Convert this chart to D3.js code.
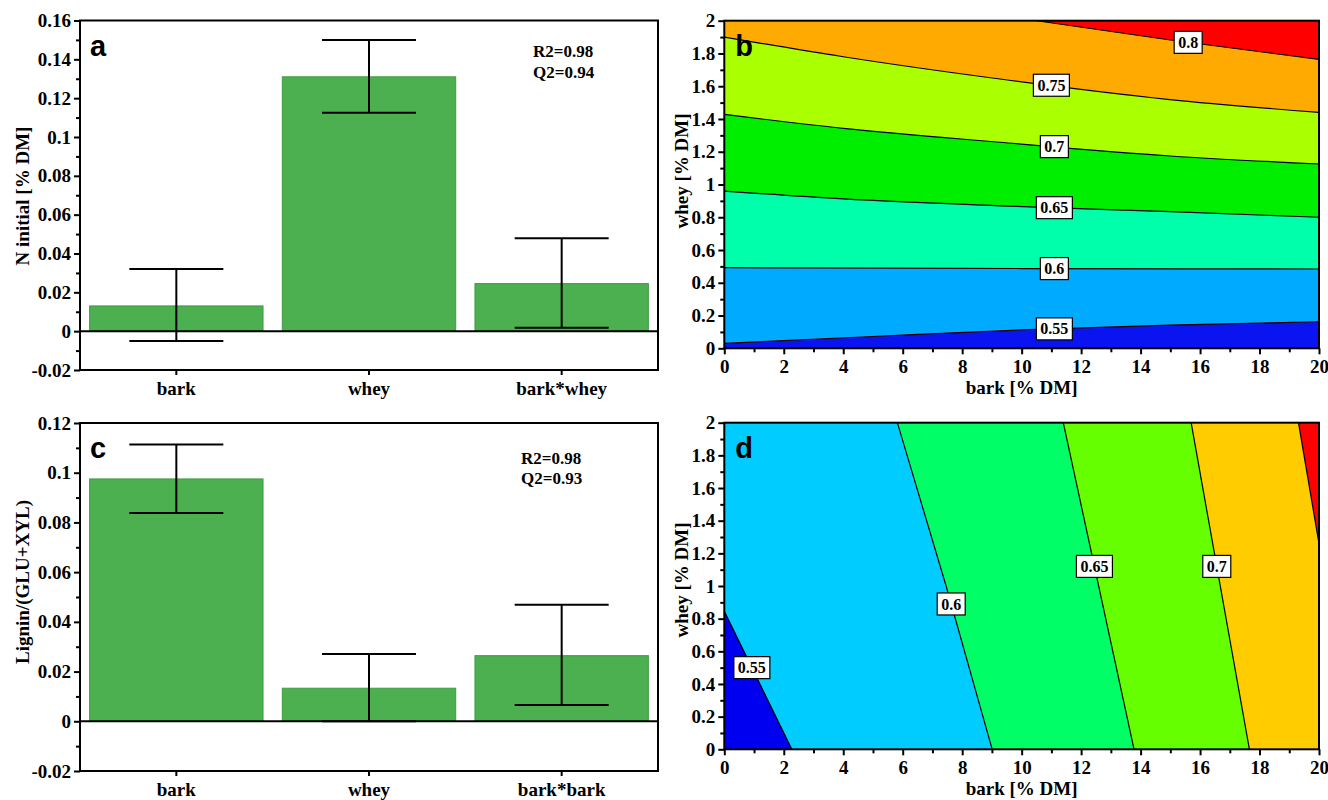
<!DOCTYPE html>
<html>
<head>
<meta charset="utf-8">
<script src="https://cdn.jsdelivr.net/npm/d3@7"></script>
<style>
  body { margin: 0; background: #fff; }
  svg text { font-family: "Liberation Serif", "Times New Roman", serif; font-weight: bold; }
  .axis text { font-size: 19px; fill: #000; }
  .axis line { stroke: #000; stroke-width: 2; }
  .axis path { display: none; }
</style>
</head>
<body>
<script>
// ---- bar panels (regression coefficients) ----
var termsA = ["bark", "whey", "bark*whey"];
var valuesA = [0.013, 0.131, 0.0245];
var errLowA = [-0.005, 0.1125, 0.0017];
var errHighA = [0.032, 0.150, 0.0478];
var yTicksA = [-0.02, 0, 0.02, 0.04, 0.06, 0.08, 0.1, 0.12, 0.14, 0.16];

var termsC = ["bark", "whey", "bark*bark"];
var valuesC = [0.0975, 0.0133, 0.0264];
var errLowC = [0.0838, 0.0, 0.0066];
var errHighC = [0.1114, 0.0271, 0.0469];
var yTicksC = [-0.02, 0, 0.02, 0.04, 0.06, 0.08, 0.1, 0.12];

// ---- contour panels ----
var barkTicks = [0, 2, 4, 6, 8, 10, 12, 14, 16, 18, 20];
var wheyTicks = [0, 0.2, 0.4, 0.6, 0.8, 1, 1.2, 1.4, 1.6, 1.8, 2];

// panel b: iso-lines as [bark, whey]
var levelsB = [0.55, 0.6, 0.65, 0.7, 0.75, 0.8];
var linesB = [
  [[0, 0.03], [5, 0.072], [10, 0.112], [15, 0.142], [20, 0.162]],
  [[0, 0.492], [10, 0.487], [20, 0.484]],
  [[0, 0.96], [4, 0.912], [9.27, 0.87], [15, 0.834], [20, 0.80]],
  [[0, 1.428], [4, 1.343], [9.27, 1.258], [15, 1.174], [20, 1.125]],
  [[0, 1.90], [4, 1.78], [9.27, 1.644], [14.9, 1.52], [20, 1.44]],
  [[10.5, 2], [15, 1.882], [20, 1.764]]
];
var colorsB = ["#0a14f0", "#00aaff", "#00ffaa", "#00ee00", "#aaff00", "#ffaa00", "#ff0000"];
var labelAtB = [11.1, 11.1, 11.1, 11.1, 11.0, 15.6];

// panel d: iso-lines as [bark, whey], ordered by whey
var levelsD = [0.55, 0.6, 0.65, 0.7, 0.75];
var linesD = [
  [[2.27, 0], [0, 0.845]],
  [[9.01, 0], [7.46, 1], [5.82, 2]],
  [[13.78, 0], [11.40, 2]],
  [[17.66, 0], [15.70, 2]],
  [[20, 1.26], [19.31, 2]]
];
var colorsD = ["#0000f0", "#00ccff", "#00ff66", "#66ff00", "#ffcc00", "#ff0000"];
var labelAtD = [0.5, 0.89, 1.12, 1.12, null];

var svg = d3.select("body").append("svg")
  .attr("width", 1328)
  .attr("height", 800);

function midpoints(t) {
  var m = [];
  for (var i = 0; i < t.length - 1; i++) m.push((t[i] + t[i + 1]) / 2);
  return m;
}

function drawBars(o) {
  var g = svg.append("g");
  var x = d3.scaleBand().domain(o.terms).range([o.left, o.right])
    .paddingInner(0.1).paddingOuter(0.05);
  var y = d3.scaleLinear().domain([o.yTicks[0], o.yTicks[o.yTicks.length - 1]])
    .range([o.bottom, o.top]);

  g.selectAll(".bar").data(o.values).enter().append("rect")
    .attr("class", "bar")
    .attr("x", (d, i) => x(o.terms[i]))
    .attr("width", x.bandwidth())
    .attr("y", d => y(Math.max(d, 0)))
    .attr("height", d => Math.abs(y(d) - y(0)))
    .attr("fill", "#4caf50")
    .attr("stroke", "#3f9c43");

  g.append("line")
    .attr("x1", o.left).attr("x2", o.right)
    .attr("y1", y(0)).attr("y2", y(0))
    .attr("stroke", "#000").attr("stroke-width", 2);

  // error bars
  var cx = i => x(o.terms[i]) + x.bandwidth() / 2;
  o.values.forEach(function(v, i) {
    var e = g.append("g").attr("stroke", "#000").attr("stroke-width", 2);
    e.append("line").attr("x1", cx(i)).attr("x2", cx(i))
      .attr("y1", y(o.lo[i])).attr("y2", y(o.hi[i]));
    [o.lo[i], o.hi[i]].forEach(function(w) {
      e.append("line").attr("x1", cx(i) - 47).attr("x2", cx(i) + 47)
        .attr("y1", y(w)).attr("y2", y(w));
    });
  });

  // axes
  g.append("g").attr("class", "axis")
    .attr("transform", `translate(${o.left},0)`)
    .call(d3.axisLeft(y).tickValues(midpoints(o.yTicks)).tickSize(4).tickFormat(""));
  g.append("g").attr("class", "axis")
    .attr("transform", `translate(${o.left},0)`)
    .call(d3.axisLeft(y).tickValues(o.yTicks).tickSize(6).tickPadding(3).tickFormat(d => String(d)));
  g.append("g").attr("class", "axis")
    .attr("transform", `translate(0,${o.bottom})`)
    .call(d3.axisBottom(x).tickSize(5).tickPadding(6.5));

  g.append("rect")
    .attr("x", o.left).attr("y", o.top)
    .attr("width", o.right - o.left).attr("height", o.bottom - o.top)
    .attr("fill", "none").attr("stroke", "#000").attr("stroke-width", 2);

  g.append("text")
    .attr("transform", `translate(29,${o.titleY}) rotate(-90)`)
    .attr("text-anchor", "middle")
    .style("font-size", "19px")
    .text(o.yTitle);

  o.stats.forEach(function(s, i) {
    g.append("text").attr("x", o.statX).attr("y", o.statY + i * 20.5)
      .style("font-size", "17px").text(s);
  });

  g.append("text").attr("x", o.left + 10).attr("y", o.top + 35)
    .style("font-family", "'Liberation Sans', Arial, sans-serif")
    .style("font-size", "29px")
    .text(o.letter);
}

function drawContour(o) {
  var g = svg.append("g");
  var x = d3.scaleLinear().domain([0, 20]).range([o.left, o.right]);
  var y = d3.scaleLinear().domain([0, 2]).range([o.bottom, o.top]);
  var clipId = "clip" + o.letter;

  g.append("clipPath").attr("id", clipId).append("rect")
    .attr("x", o.left).attr("y", o.top)
    .attr("width", o.right - o.left).attr("height", o.bottom - o.top);

  var plot = g.append("g").attr("clip-path", `url(#${clipId})`);
  plot.append("rect")
    .attr("x", o.left).attr("y", o.top)
    .attr("width", o.right - o.left).attr("height", o.bottom - o.top)
    .attr("fill", o.colors[o.colors.length - 1]);

  var curve = o.orient === "h" ? d3.curveMonotoneX : d3.curveLinear;
  var line = d3.line().x(d => x(d[0])).y(d => y(d[1])).curve(curve);

  // paint regions from the highest level downwards:
  // each region = contour line closed round the low side of the plot
  for (var i = o.lines.length - 1; i >= 0; i--) {
    var l = o.lines[i];
    var first = l[0], last = l[l.length - 1];
    var corners = [];
    if (o.orient === "h") {
      if (last[0] < 20) corners.push([20, last[1]]);
      corners.push([20, 0], [0, 0]);
      if (first[0] > 0) corners.push([0, first[1]]);
    } else {
      if (last[1] < 2) corners.push([last[0], 2]);
      corners.push([0, 2], [0, 0]);
      if (first[1] > 0) corners.push([first[0], 0]);
    }
    var d = line(l) + corners.map(c => "L" + x(c[0]) + "," + y(c[1])).join("") + "Z";
    plot.append("path").attr("d", d).attr("fill", o.colors[i]);
  }

  o.lines.forEach(function(l) {
    plot.append("path").attr("d", line(l))
      .attr("fill", "none").attr("stroke", "#000").attr("stroke-width", 1.2);
  });

  // contour labels
  o.lines.forEach(function(l, i) {
    var at = o.labelAt[i];
    if (at == null) return;
    var k = o.orient === "h" ? 0 : 1;
    var pos = [0, 0];
    for (var j = 0; j < l.length - 1; j++) {
      var a = l[j], b = l[j + 1];
      if ((at - a[k]) * (at - b[k]) <= 0) {
        var t = (at - a[k]) / (b[k] - a[k]);
        pos = [a[0] + t * (b[0] - a[0]), a[1] + t * (b[1] - a[1])];
        break;
      }
    }
    var lg = g.append("g").attr("transform", `translate(${x(pos[0])},${y(pos[1])})`);
    var box = lg.append("rect").attr("fill", "#fff").attr("stroke", "#000").attr("stroke-width", 1.2);
    var tx = lg.append("text").attr("text-anchor", "middle").attr("dy", "0.35em")
      .style("font-size", "16px").text(String(o.levels[i]));
    var w = tx.node().getComputedTextLength() + 8;
    box.attr("x", -w / 2).attr("y", -11).attr("width", w).attr("height", 22);
  });

  // axes
  g.append("g").attr("class", "axis")
    .attr("transform", `translate(${o.left},0)`)
    .call(d3.axisLeft(y).tickValues(midpoints(wheyTicks)).tickSize(4).tickFormat(""));
  g.append("g").attr("class", "axis")
    .attr("transform", `translate(${o.left},0)`)
    .call(d3.axisLeft(y).tickValues(wheyTicks).tickSize(6).tickPadding(3).tickFormat(d => String(d)));
  g.append("g").attr("class", "axis")
    .attr("transform", `translate(0,${o.bottom})`)
    .call(d3.axisBottom(x).tickValues(midpoints(barkTicks)).tickSize(4).tickFormat(""));
  g.append("g").attr("class", "axis")
    .attr("transform", `translate(0,${o.bottom})`)
    .call(d3.axisBottom(x).tickValues(barkTicks).tickSize(6).tickPadding(5.5).tickFormat(d => String(d)));

  g.append("rect")
    .attr("x", o.left).attr("y", o.top)
    .attr("width", o.right - o.left).attr("height", o.bottom - o.top)
    .attr("fill", "none").attr("stroke", "#000").attr("stroke-width", 2);

  g.append("text")
    .attr("transform", `translate(688,${o.titleY}) rotate(-90)`)
    .attr("text-anchor", "middle")
    .style("font-size", "19px")
    .text("whey [% DM]");
  g.append("text")
    .attr("x", (o.left + o.right) / 2).attr("y", o.bottom + 45.5)
    .attr("text-anchor", "middle")
    .style("font-size", "19px")
    .text("bark [% DM]");

  g.append("text").attr("x", o.left + 11).attr("y", o.top + 35)
    .style("font-family", "'Liberation Sans', Arial, sans-serif")
    .style("font-size", "29px")
    .text(o.letter);
}

drawBars({
  terms: termsA, values: valuesA, lo: errLowA, hi: errHighA, yTicks: yTicksA,
  left: 80, right: 658, top: 20.5, bottom: 370,
  yTitle: "N initial [% DM]", titleY: 196,
  stats: ["R2=0.98", "Q2=0.94"], statX: 533, statY: 57, letter: "a"
});

drawBars({
  terms: termsC, values: valuesC, lo: errLowC, hi: errHighC, yTicks: yTicksC,
  left: 80, right: 658, top: 423, bottom: 771,
  yTitle: "Lignin/(GLU+XYL)", titleY: 582,
  stats: ["R2=0.98", "Q2=0.93"], statX: 521, statY: 463.5, letter: "c"
});

drawContour({
  orient: "h", levels: levelsB, lines: linesB, colors: colorsB, labelAt: labelAtB,
  left: 724.3, right: 1319, top: 20.7, bottom: 348.3, titleY: 171, letter: "b"
});

drawContour({
  orient: "v", levels: levelsD, lines: linesD, colors: colorsD, labelAt: labelAtD,
  left: 724.3, right: 1319, top: 422.7, bottom: 749.3, titleY: 580, letter: "d"
});
</script>
</body>
</html>
